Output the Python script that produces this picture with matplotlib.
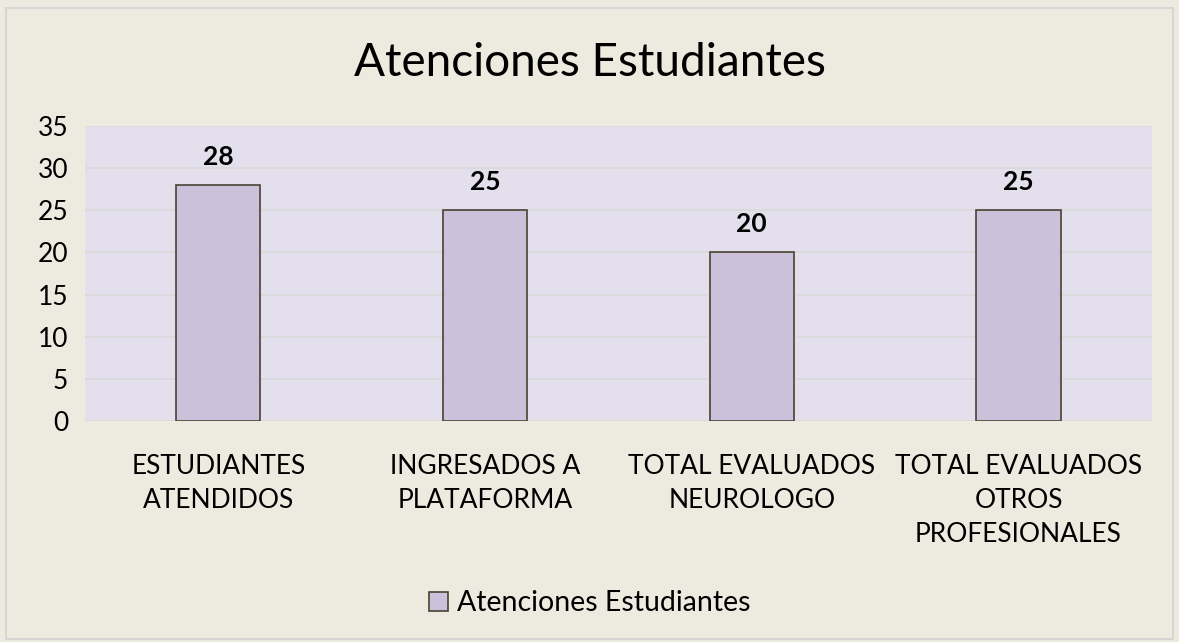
import matplotlib.pyplot as plt

categories = ["ESTUDIANTES\nATENDIDOS", "INGRESADOS A\nPLATAFORMA",
              "TOTAL EVALUADOS\nNEUROLOGO", "TOTAL EVALUADOS\nOTROS\nPROFESIONALES"]
values = [28, 25, 20, 25]
series_name = "Atenciones Estudiantes"

plt.rcParams['font.family'] = ['Lato', 'DejaVu Sans']

fig = plt.figure(figsize=(11.79, 6.42), dpi=100, facecolor="#EDEBE0")
# thin frame around the whole chart
fig.patches.append(plt.Rectangle((0.005, 0.005), 0.99, 0.982, transform=fig.transFigure,
                                 fill=False, edgecolor="#D6D6D6", linewidth=1.5))

ax = fig.add_axes([0.072, 0.344, 0.905, 0.460])
ax.set_facecolor("#E4DFEC")

x = range(len(categories))
bars = ax.bar(x, values, width=0.315, color="#CCC1DA", edgecolor="#4A4232",
              linewidth=1.2, label=series_name, zorder=3)

for b, v in zip(bars, values):
    ax.text(b.get_x() + b.get_width() / 2, v + 1.9, str(v), ha="center", va="bottom",
            fontsize=19, fontweight="bold")

ax.set_ylim(0, 35)
ax.set_xlim(-0.5, 3.5)
ax.set_yticks(range(0, 36, 5))
ax.set_xticks(list(x))
ax.set_xticklabels(categories, fontsize=19, linespacing=1.45)
ax.tick_params(axis="y", labelsize=19, length=0, pad=12)
ax.tick_params(axis="x", length=0, pad=24)
ax.grid(axis="y", color="#D9D9D9", linewidth=1.2, zorder=0)
for s in ax.spines.values():
    s.set_visible(False)
ax.axhline(0, color="#D9D9D9", linewidth=1.2, zorder=1)

fig.suptitle("Atenciones Estudiantes", y=0.935, fontsize=33)

fig.legend(handles=[bars], labels=[series_name], loc="center", bbox_to_anchor=(0.5, 0.06),
           frameon=False, fontsize=20.5, handlelength=0.7, handleheight=0.7, handletextpad=0.3)

fig.savefig("out.png", facecolor=fig.get_facecolor())
